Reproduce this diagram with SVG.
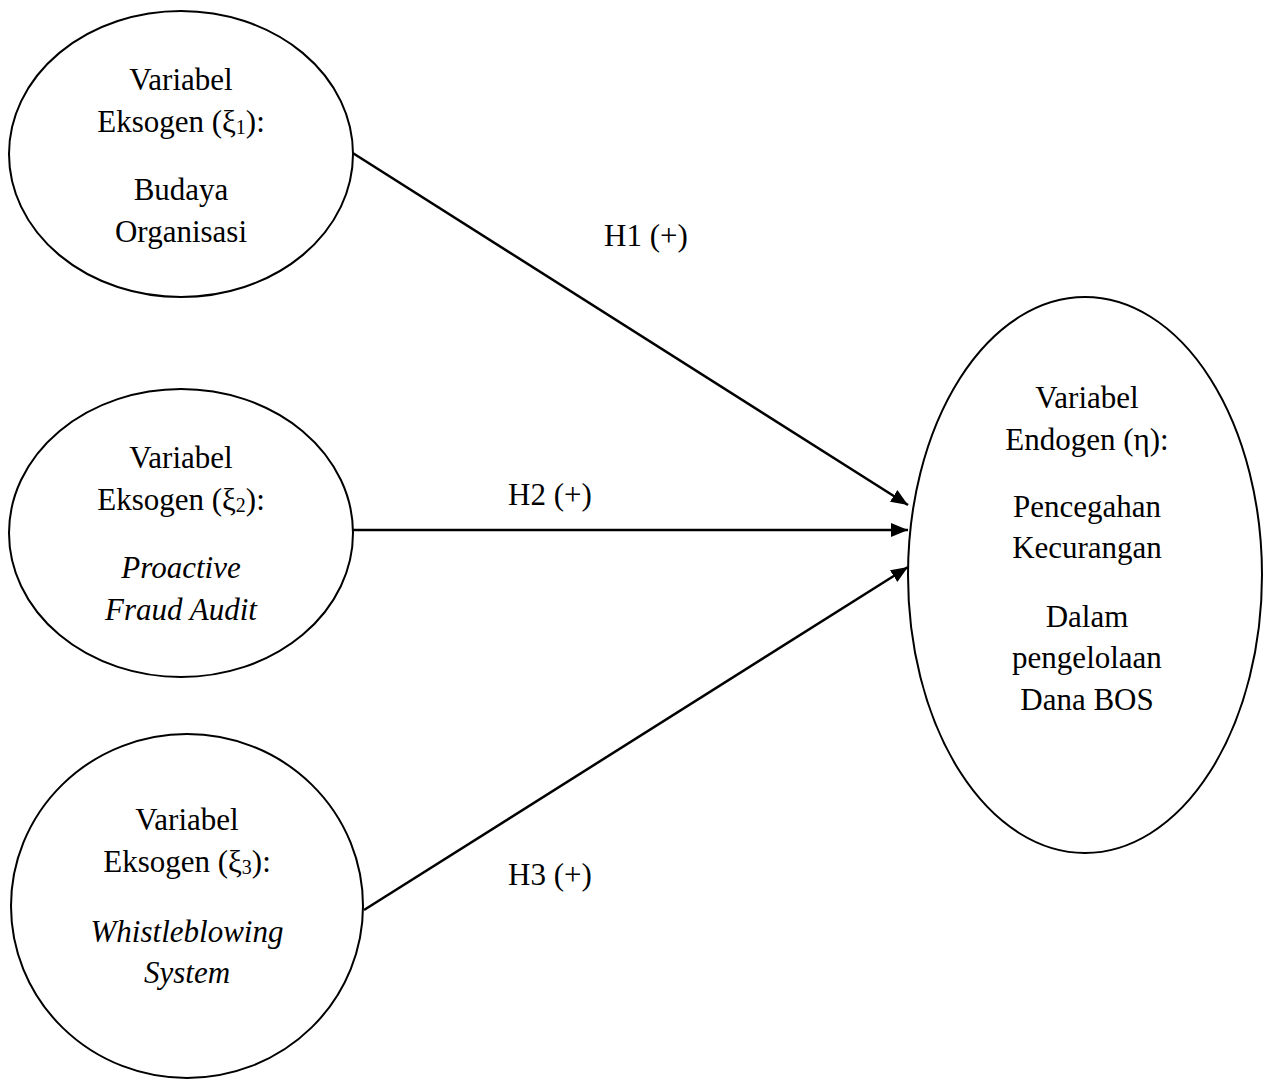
<svg xmlns="http://www.w3.org/2000/svg" width="1264" height="1079" viewBox="0 0 1264 1079">
  <style>
    .node { fill: #ffffff; stroke: #000000; stroke-width: 2; }
    .lbl { font-family: "Liberation Serif", "Times New Roman", serif; font-size: 31px; fill: #000000; text-anchor: middle; }
    .it { font-style: italic; }
    .sub { font-size: 20px; }
    .edge { stroke: #000000; stroke-width: 2.5; fill: none; marker-end: url(#arrow); }
  </style>
  <defs>
    <marker id="arrow" markerUnits="userSpaceOnUse" markerWidth="19" markerHeight="14" refX="17" refY="7" orient="auto">
      <path d="M0,0 L17,7 L0,14 Z" fill="#000000"/>
    </marker>
  </defs>
  <rect width="1264" height="1079" fill="#ffffff"/>

  <g id="connectors">
    <line class="edge" x1="348" y1="150" x2="908" y2="505"/>
    <line class="edge" x1="353" y1="530" x2="908" y2="530"/>
    <line class="edge" x1="364" y1="910" x2="908" y2="567"/>
    <text class="lbl" x="646" y="246">H1 (+)</text>
    <text class="lbl" x="550" y="505">H2 (+)</text>
    <text class="lbl" x="550" y="885">H3 (+)</text>
  </g>

  <g id="budaya-organisasi">
    <ellipse class="node" cx="181" cy="154" rx="172" ry="143"/>
    <text class="lbl" x="181" y="90">Variabel</text>
    <text class="lbl" x="181" y="132">Eksogen (ξ<tspan class="sub" dy="2">1</tspan><tspan dy="-2">):</tspan></text>
    <text class="lbl" x="181" y="200">Budaya</text>
    <text class="lbl" x="181" y="242">Organisasi</text>
  </g>

  <g id="proactive-fraud-audit">
    <ellipse class="node" cx="181" cy="533" rx="172" ry="144"/>
    <text class="lbl" x="181" y="468">Variabel</text>
    <text class="lbl" x="181" y="510">Eksogen (ξ<tspan class="sub" dy="2">2</tspan><tspan dy="-2">):</tspan></text>
    <text class="lbl it" x="181" y="578">Proactive</text>
    <text class="lbl it" x="181" y="620">Fraud Audit</text>
  </g>

  <g id="whistleblowing-system">
    <ellipse class="node" cx="187" cy="906" rx="176" ry="172"/>
    <text class="lbl" x="187" y="830">Variabel</text>
    <text class="lbl" x="187" y="872">Eksogen (ξ<tspan class="sub" dy="2">3</tspan><tspan dy="-2">):</tspan></text>
    <text class="lbl it" x="187" y="942">Whistleblowing</text>
    <text class="lbl it" x="187" y="983">System</text>
  </g>

  <g id="pencegahan-kecurangan">
    <ellipse class="node" cx="1085" cy="575" rx="177" ry="278"/>
    <text class="lbl" x="1087" y="408">Variabel</text>
    <text class="lbl" x="1087" y="450">Endogen (η):</text>
    <text class="lbl" x="1087" y="517">Pencegahan</text>
    <text class="lbl" x="1087" y="558">Kecurangan</text>
    <text class="lbl" x="1087" y="627">Dalam</text>
    <text class="lbl" x="1087" y="668">pengelolaan</text>
    <text class="lbl" x="1087" y="710">Dana BOS</text>
  </g>
</svg>
